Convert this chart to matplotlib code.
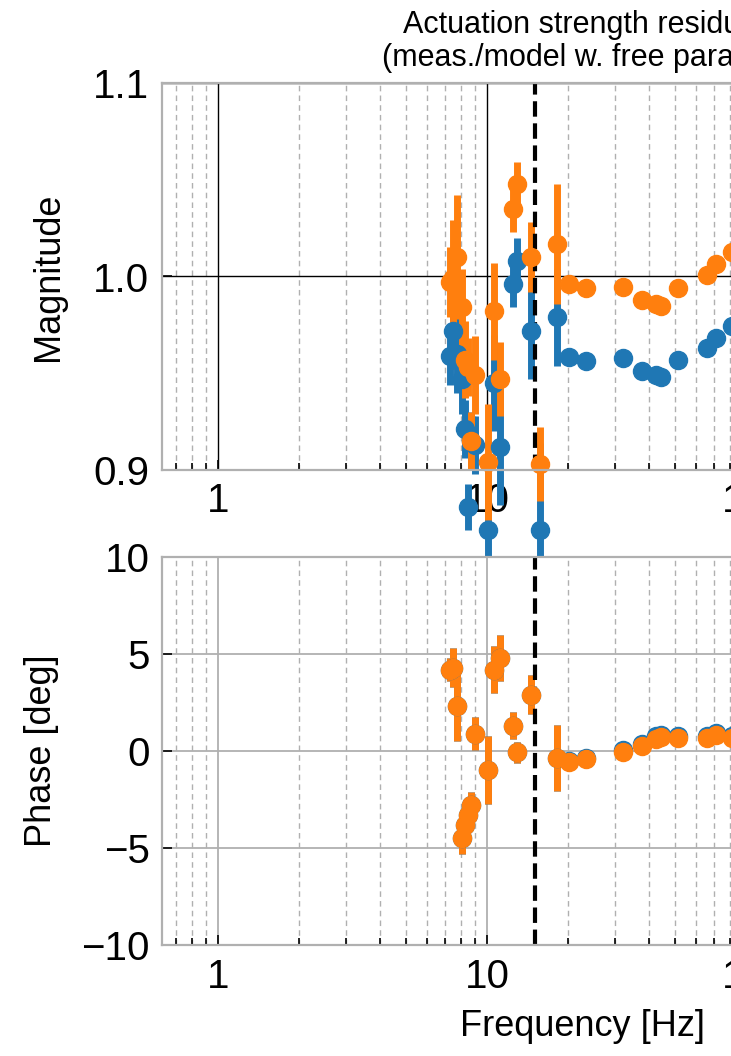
import numpy as np
import matplotlib
matplotlib.use("Agg")
import matplotlib.pyplot as plt
from matplotlib.ticker import FixedLocator, LogLocator, NullFormatter, FuncFormatter

plt.rcParams['font.family'] = ['Liberation Sans', 'DejaVu Sans']

# ---- data ----
freq = [7.3, 7.5, 7.75, 8.05, 8.3, 8.5, 8.75, 9.05, 10.1, 10.6, 11.2, 12.45, 12.95,
        14.6, 15.75, 18.25, 20.2, 23.3, 32.1, 37.6, 42.5, 44.3, 51.4, 65.6, 70.8, 81.2]

blue_mag = [0.959, 0.972, 0.960, 0.947, 0.921, 0.881, 0.915, 0.913, 0.869, 0.945, 0.912,
            0.996, 1.008, 0.972, 0.869, 0.979, 0.9586, 0.9565, 0.9577, 0.9513, 0.9490,
            0.9480, 0.9569, 0.9629, 0.9680, 0.9746]
blue_mag_err = [0.015, 0.020, 0.020, 0.018, 0.015, 0.012, 0.015, 0.015, 0.035, 0.025, 0.030,
                0.012, 0.012, 0.025, 0.045, 0.025, 0.002, 0.002, 0.002, 0.002, 0.002,
                0.002, 0.002, 0.002, 0.002, 0.002]
orange_mag = [0.997, 0.999, 1.010, 0.984, 0.957, 0.953, 0.915, 0.949, 0.904, 0.982, 0.947,
              1.035, 1.048, 1.010, 0.903, 1.017, 0.9961, 0.9939, 0.9948, 0.9879, 0.9860,
              0.9850, 0.9943, 1.0008, 1.0063, 1.0128]
orange_mag_err = [0.018, 0.030, 0.032, 0.020, 0.020, 0.015, 0.015, 0.020, 0.030, 0.025, 0.019,
                  0.012, 0.011, 0.018, 0.019, 0.031, 0.002, 0.002, 0.002, 0.002, 0.002,
                  0.002, 0.002, 0.002, 0.002, 0.002]

nan = np.nan
orange_ph = [4.2, 4.3, 2.3, -4.5, -3.8, -3.3, -2.8, 0.9, -1.0, 4.2, 4.8, 1.3, -0.07,
             2.9, nan, -0.38, -0.55, -0.43, -0.04, 0.26, 0.62, 0.72, 0.65, 0.65, 0.82, 0.65]
blue_ph = [4.2, 4.3, 2.3, -4.5, -3.8, -3.3, -2.8, 0.9, -1.0, 4.2, 4.8, 1.3, -0.07,
           2.9, nan, -0.35, -0.50, -0.38, 0.05, 0.36, 0.75, 0.85, 0.78, 0.75, 0.95, 0.78]
ph_err = [0.6, 1.0, 1.8, 0.8, 0.6, 0.6, 0.7, 0.85, 1.75, 1.2, 1.2, 0.7, 0.55,
          1.0, nan, 1.7, 0.1, 0.1, 0.1, 0.1, 0.1, 0.1, 0.1, 0.1, 0.1, 0.1]

vline_freq = 15.1
xlim = (0.62, 835)
mag_ticks = [0.9, 1.0, 1.1]
mag_ticklabels = ['0.9', '1.0', '1.1']
ph_ticks = [-10, -5, 0, 5, 10]
title = "Actuation strength residual\n(meas./model w. free params)"

BLUE = '#1f77b4'
ORANGE = '#ff7f0e'
GREY = '#b0b0b0'

fig = plt.figure(figsize=(7.31, 10.56), dpi=100)
W, H = 731.0, 1056.0
left = 162 / W
width = 842 / W
ax1 = fig.add_axes([left, 1 - 470 / H, width, 387 / H])
ax2 = fig.add_axes([left, 1 - 945 / H, width, 388 / H])
ax1.set_zorder(1)
ax2.set_zorder(2)
ax2.set_facecolor('white')


def plain(x, pos):
    return '%g' % x


def style(ax, major_color, major_lw):
    ax.set_xscale('log')
    ax.set_xlim(*xlim)
    ax.xaxis.set_major_locator(LogLocator(base=10, numticks=10))
    ax.xaxis.set_major_formatter(FuncFormatter(plain))
    ax.xaxis.set_minor_locator(LogLocator(base=10, subs=np.arange(2, 10), numticks=20))
    ax.xaxis.set_minor_formatter(NullFormatter())
    ax.grid(True, which='major', color=major_color, lw=major_lw, ls='-')
    ax.grid(True, which='minor', axis='x', color=GREY, lw=1.0, ls=(0, (4, 3)))
    ax.set_axisbelow(True)
    for s in ax.spines.values():
        s.set_color(GREY)
        s.set_linewidth(1.6)
    ax.tick_params(which='both', direction='in', color='black', labelsize=29,
                   pad=9, width=1.2)
    ax.tick_params(which='major', length=7)
    ax.tick_params(which='minor', length=5)
    ax.tick_params(axis='x', which='both', top=False)
    ax.tick_params(axis='y', which='both', right=False)


style(ax1, 'black', 1.0)
style(ax2, GREY, 1.3)

# --- magnitude ---
for y, e, c in [(blue_mag, blue_mag_err, BLUE), (orange_mag, orange_mag_err, ORANGE)]:
    cont = ax1.errorbar(freq, y, yerr=e, fmt='o', color=c, ms=13, mec=c,
                        elinewidth=5, capsize=0)
    for art in cont.get_children():
        art.set_clip_on(False)
ax1.axvline(vline_freq, color='black', lw=3, ls='--')
ax1.set_ylim(0.9, 1.1)
ax1.yaxis.set_major_locator(FixedLocator(mag_ticks))
ax1.set_yticklabels(mag_ticklabels)
ax1.set_ylabel('Magnitude', fontsize=26, labelpad=20)
ax1.set_title(title, fontsize=22, pad=12, linespacing=1.15)

# --- phase ---
for y, c in [(blue_ph, BLUE), (orange_ph, ORANGE)]:
    ax2.errorbar(freq, y, yerr=ph_err, fmt='o', color=c, ms=13, mec=c,
                 elinewidth=5, capsize=0)
ax2.axvline(vline_freq, color='black', lw=3, ls='--')
ax2.set_ylim(-10, 10)
ax2.yaxis.set_major_locator(FixedLocator(ph_ticks))
ax2.set_ylabel('Phase [deg]', fontsize=26, labelpad=16)
ax2.set_xlabel('Frequency [Hz]', fontsize=26, labelpad=10)

fig.savefig('out.png', dpi=100)
